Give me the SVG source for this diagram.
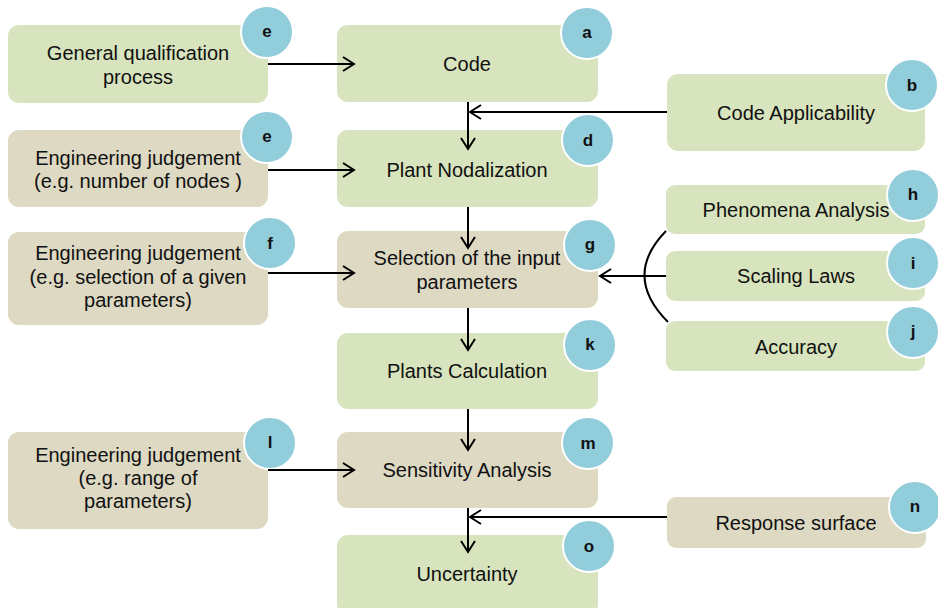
<svg xmlns="http://www.w3.org/2000/svg" width="938" height="608" viewBox="0 0 938 608">
<style>
.g{fill:#D7E4BD}
.b{fill:#DDD9C3}
.c{fill:#92CDDC;stroke:#fff;stroke-width:2}
.t{font-family:"Liberation Sans",Arial,sans-serif;font-size:20px;fill:#111;text-anchor:middle;dominant-baseline:central}
.l{font-family:"Liberation Sans",Arial,sans-serif;font-size:17px;font-weight:bold;fill:#111;text-anchor:middle;dominant-baseline:central}
.a{stroke:#000;stroke-width:2;fill:none}
</style>
<defs>
<marker id="ah" markerUnits="userSpaceOnUse" markerWidth="14" markerHeight="18" refX="12" refY="8" orient="auto" viewBox="0 0 14 18">
<path d="M1,1 L12,8 L1,15" fill="none" stroke="#000" stroke-width="2"/>
</marker>
</defs>
<g id="n-general"><rect class="g" x="8" y="25" width="260" height="78" rx="11"/><text class="t" x="138" y="53">General qualification</text><text class="t" x="138" y="77">process</text><circle class="c" cx="267" cy="32" r="26"/><text class="l" x="267" y="31">e</text></g>
<g id="n-code"><rect class="g" x="337" y="25" width="261" height="77" rx="11"/><text class="t" x="467" y="64">Code</text><circle class="c" cx="587" cy="33" r="26"/><text class="l" x="587" y="32">a</text></g>
<g id="n-applicability"><rect class="g" x="667" y="74" width="258" height="77" rx="11"/><text class="t" x="796" y="113">Code Applicability</text><circle class="c" cx="912" cy="85" r="26"/><text class="l" x="912" y="85">b</text></g>
<g id="n-ej1"><rect class="b" x="8" y="130" width="260" height="77" rx="11"/><text class="t" x="138" y="158">Engineering judgement</text><text class="t" x="138" y="181">(e.g. number of nodes )</text><circle class="c" cx="267" cy="137" r="26"/><text class="l" x="267" y="136">e</text></g>
<g id="n-nodal"><rect class="g" x="337" y="130" width="261" height="77" rx="11"/><text class="t" x="467" y="170">Plant Nodalization</text><circle class="c" cx="588" cy="140" r="26"/><text class="l" x="588" y="140">d</text></g>
<g id="n-phen"><rect class="g" x="666" y="185" width="259" height="49" rx="9"/><text class="t" x="796" y="210">Phenomena Analysis</text><circle class="c" cx="913" cy="195" r="26"/><text class="l" x="913" y="194">h</text></g>
<g id="n-ej2"><rect class="b" x="8" y="232" width="260" height="93" rx="11"/><text class="t" x="138" y="253">Engineering judgement</text><text class="t" x="138" y="277">(e.g. selection of a given</text><text class="t" x="138" y="300">parameters)</text><circle class="c" cx="270" cy="243" r="26"/><text class="l" x="270" y="243">f</text></g>
<g id="n-select"><rect class="b" x="337" y="231" width="261" height="77" rx="11"/><text class="t" x="467" y="258">Selection of the input</text><text class="t" x="467" y="282">parameters</text><circle class="c" cx="590" cy="245" r="26"/><text class="l" x="590" y="244">g</text></g>
<g id="n-scaling"><rect class="g" x="666" y="251" width="259" height="50" rx="9"/><text class="t" x="796" y="276">Scaling Laws</text><circle class="c" cx="913" cy="263" r="26"/><text class="l" x="913" y="263">i</text></g>
<g id="n-accuracy"><rect class="g" x="666" y="321" width="259" height="50" rx="9"/><text class="t" x="796" y="347">Accuracy</text><circle class="c" cx="913" cy="332" r="26"/><text class="l" x="913" y="331">j</text></g>
<g id="n-calc"><rect class="g" x="337" y="333" width="261" height="76" rx="11"/><text class="t" x="467" y="371">Plants Calculation</text><circle class="c" cx="590" cy="345" r="26"/><text class="l" x="590" y="344">k</text></g>
<g id="n-ej3"><rect class="b" x="8" y="432" width="260" height="97" rx="11"/><text class="t" x="138" y="455">Engineering judgement</text><text class="t" x="138" y="478">(e.g. range of</text><text class="t" x="138" y="501">parameters)</text><circle class="c" cx="270" cy="443" r="26"/><text class="l" x="270" y="442">l</text></g>
<g id="n-sens"><rect class="b" x="337" y="432" width="261" height="76" rx="11"/><text class="t" x="467" y="470">Sensitivity Analysis</text><circle class="c" cx="588" cy="443" r="26"/><text class="l" x="588" y="443">m</text></g>
<g id="n-response"><rect class="b" x="667" y="497" width="259" height="51" rx="9"/><text class="t" x="796" y="523">Response surface</text><circle class="c" cx="915" cy="507" r="26"/><text class="l" x="915" y="506">n</text></g>
<g id="n-uncert"><rect class="g" x="337" y="535" width="261" height="80" rx="11"/><text class="t" x="467" y="574">Uncertainty</text><circle class="c" cx="589" cy="546" r="26"/><text class="l" x="589" y="546">o</text></g>
<g id="connectors">
<line class="a" x1="268" y1="64" x2="354" y2="64" marker-end="url(#ah)"/>
<line class="a" x1="268" y1="170" x2="354" y2="170" marker-end="url(#ah)"/>
<line class="a" x1="268" y1="273" x2="354" y2="273" marker-end="url(#ah)"/>
<line class="a" x1="268" y1="470" x2="354" y2="470" marker-end="url(#ah)"/>
<line class="a" x1="468" y1="102" x2="468" y2="149" marker-end="url(#ah)"/>
<line class="a" x1="468" y1="207" x2="468" y2="248" marker-end="url(#ah)"/>
<line class="a" x1="468" y1="308" x2="468" y2="350" marker-end="url(#ah)"/>
<line class="a" x1="468" y1="409" x2="468" y2="450" marker-end="url(#ah)"/>
<line class="a" x1="468" y1="508" x2="468" y2="552" marker-end="url(#ah)"/>
<line class="a" x1="667" y1="112" x2="470" y2="112" marker-end="url(#ah)"/>
<line class="a" x1="666" y1="276" x2="600" y2="276" marker-end="url(#ah)"/>
<line class="a" x1="667" y1="517" x2="470" y2="517" marker-end="url(#ah)"/>
<path class="a" d="M666,231 Q622,276 668,322"/>
</g>
</svg>
